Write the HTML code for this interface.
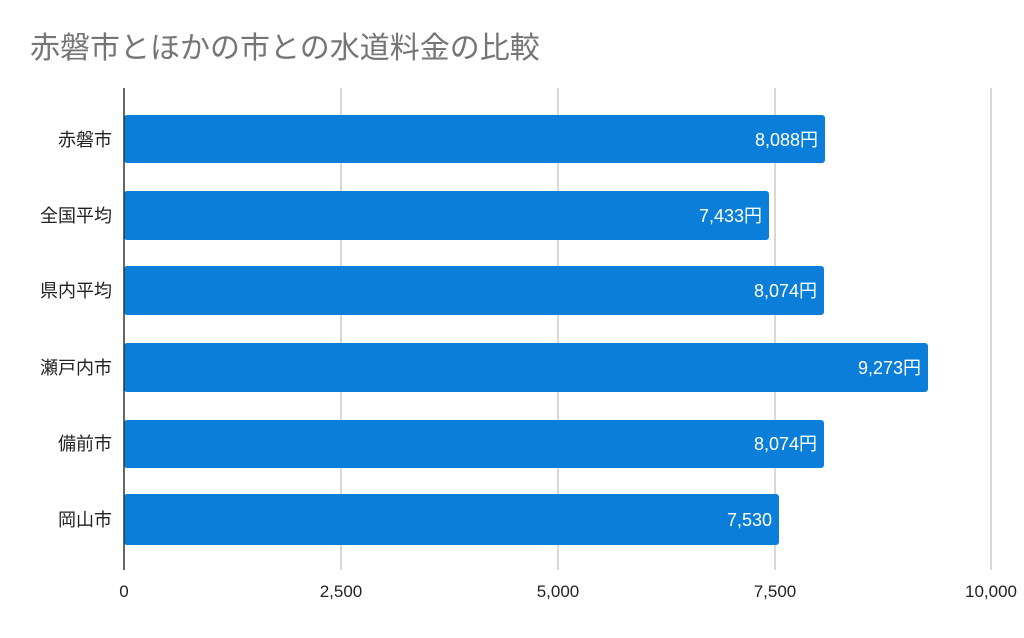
<!DOCTYPE html>
<html><head><meta charset="utf-8"><style>
body{margin:0;background:#fff;width:1024px;height:633px;overflow:hidden;font-family:"Liberation Sans","Noto Sans CJK JP",sans-serif}
</style></head><body>
<svg width="1024" height="633" xmlns="http://www.w3.org/2000/svg" font-family="Liberation Sans, Noto Sans CJK JP, sans-serif">
<text x="30" y="58" font-size="30" fill="#757575">赤磐市とほかの市との水道料金の比較</text>
<g stroke="#cccccc" stroke-width="1.5">
<line x1="341" y1="88" x2="341" y2="570"/><line x1="558" y1="88" x2="558" y2="570"/>
<line x1="775" y1="88" x2="775" y2="570"/><line x1="991" y1="88" x2="991" y2="570"/>
</g>
<g fill="#0a7ed8">
<rect x="124" y="115" width="701" height="48" rx="3"/>
<rect x="124" y="191" width="645" height="49" rx="3"/>
<rect x="124" y="266" width="700" height="49" rx="3"/>
<rect x="124" y="343" width="804" height="49" rx="3"/>
<rect x="124" y="420" width="700" height="48" rx="3"/>
<rect x="124" y="494" width="655" height="51" rx="3"/>
</g>
<line x1="124" y1="88" x2="124" y2="570" stroke="#333" stroke-width="1.5"/>
<g fill="#fff" font-size="18" text-anchor="end">
<text x="818" y="146">8,088円</text>
<text x="762" y="222">7,433円</text>
<text x="817" y="297">8,074円</text>
<text x="921" y="374">9,273円</text>
<text x="817" y="450">8,074円</text>
<text x="772" y="526">7,530</text>
</g>
<g fill="#222" font-size="18" text-anchor="end">
<text x="112" y="146">赤磐市</text>
<text x="112" y="222">全国平均</text>
<text x="112" y="297">県内平均</text>
<text x="112" y="374">瀬戸内市</text>
<text x="112" y="450">備前市</text>
<text x="112" y="526">岡山市</text>
</g>
<g fill="#222" font-size="17" text-anchor="middle">
<text x="124" y="597">0</text><text x="341" y="597">2,500</text><text x="558" y="597">5,000</text>
<text x="775" y="597">7,500</text><text x="991" y="597">10,000</text>
</g>
</svg>
</body></html>
